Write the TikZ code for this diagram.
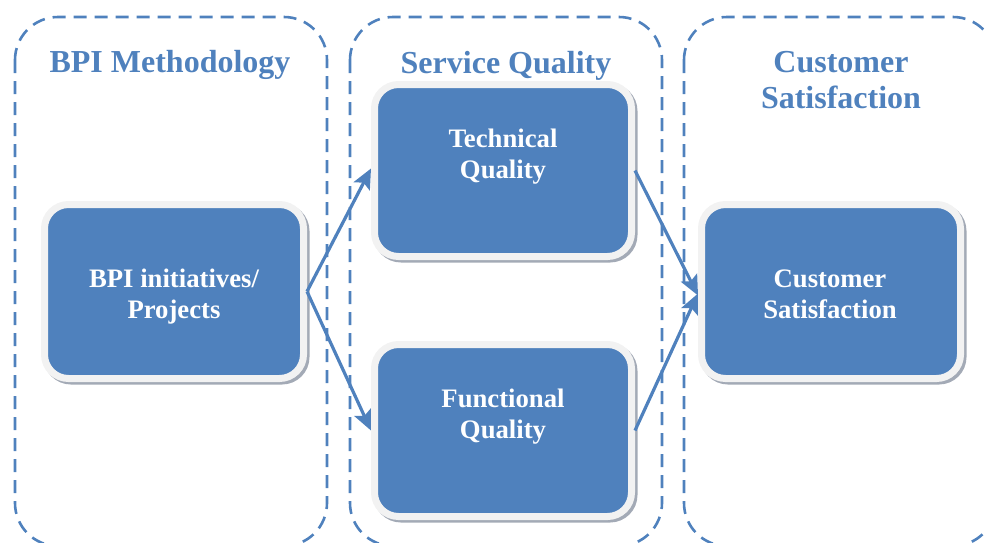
\documentclass[tikz,border=0pt]{standalone}
\usepackage{fontspec}
\setmainfont{Liberation Serif}
\usetikzlibrary{arrows.meta}
\definecolor{bblue}{HTML}{4F81BD}
\definecolor{bframe}{HTML}{F2F2F2}
\definecolor{bshadow}{HTML}{A3AAB6}
\tikzset{
  container/.style={draw=bblue, line width=2.6pt, dash pattern=on 13pt off 8pt, rounded corners=43pt},
  titletext/.style={text=bblue, font=\bfseries\fontsize{32}{36}\selectfont, align=center, anchor=base, inner sep=0pt},
  bluebox/.style={rectangle, rounded corners=24pt, fill=bblue, draw=bframe, line width=7pt, inner sep=0pt,
    preaction={draw=bshadow, fill=bshadow, line width=7pt, transform canvas={shift={(2.5pt,-2.5pt)}}}},
  boxtext/.style={text=white, font=\bfseries\fontsize{26.7}{31}\selectfont, align=center, anchor=base, inner sep=0pt},
  flow/.style={draw=bblue, line width=3.2pt, -{Stealth[length=20pt 0,width=18pt 0,inset=4pt 0]}}
}
\begin{document}
\begin{tikzpicture}[x=1pt,y=-1pt]
\useasboundingbox (0,0) rectangle (986,542);
% containers
\draw[container] (15,17) rectangle (327,546);
\draw[container] (350,17) rectangle (662,546);
\draw[container] (684,17) rectangle (996,546);
% titles (anchor base = last line baseline)
\node[titletext] (t1) at (170,72) {BPI Methodology};
\node[titletext] (t2) at (506,73) {Service Quality};
\node[titletext] (t3) at (841,108) {Customer\\Satisfaction};
% boxes
\node[bluebox, minimum width=259pt, minimum height=174pt] (bpi) at (174,291.5) {};
\node[bluebox, minimum width=257pt, minimum height=172pt] (tq) at (503,170.5) {};
\node[bluebox, minimum width=257pt, minimum height=172pt] (fq) at (503,430.5) {};
\node[bluebox, minimum width=259pt, minimum height=174pt] (cs) at (831,291.5) {};
% box texts
\node[boxtext] (bpit) at (174,318) {BPI initiatives/\\Projects};
\node[boxtext] (tqt) at (503,178) {Technical\\Quality};
\node[boxtext] (fqt) at (503,438) {Functional\\Quality};
\node[boxtext] (cst) at (830,318) {Customer\\Satisfaction};
% connectors
\draw[flow] (bpi.east) -- ([yshift=2pt]tq.west);
\draw[flow] (bpi.east) -- (fq.west);
\draw[flow] (tq.east) -- ([yshift=-4pt]cs.west);
\draw[flow] (fq.east) -- ([yshift=-2pt]cs.west);
\end{tikzpicture}
\end{document}
